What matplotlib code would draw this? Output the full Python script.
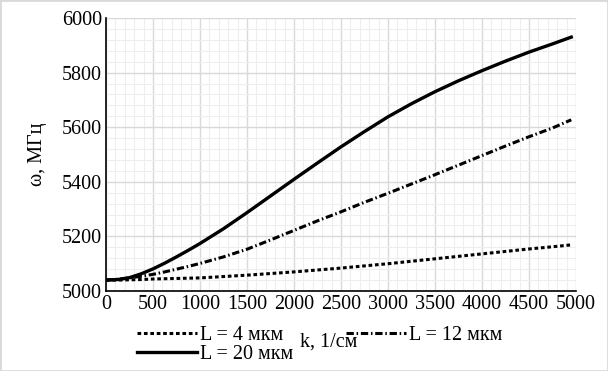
import matplotlib
matplotlib.use('Agg')
import matplotlib.pyplot as plt
from matplotlib.patches import Rectangle
from matplotlib.ticker import MultipleLocator

plt.rcParams['font.family'] = ['Liberation Serif', 'DejaVu Serif']
plt.rcParams['axes.unicode_minus'] = False

# Волновое число, 1/см
k = [0, 125, 250, 375, 500, 625, 750, 875, 1000, 1250, 1500, 1750, 2000, 2250, 2500,
     2750, 3000, 3250, 3500, 3750, 4000, 4250, 4500, 4750, 4950]
# Частота, МГц
w_L4 = [5040, 5040, 5041, 5042, 5044, 5045, 5046, 5047, 5048, 5053, 5058, 5064, 5070,
        5077, 5084, 5092, 5100, 5109, 5118, 5127, 5136, 5145, 5154, 5162, 5169]
w_L12 = [5040, 5043, 5048, 5054, 5061, 5070, 5080, 5090, 5101, 5125, 5153, 5187, 5222,
         5257, 5290, 5325, 5358, 5392, 5426, 5461, 5496, 5531, 5565, 5597, 5627]
w_L20 = [5040, 5042, 5049, 5063, 5081, 5102, 5125, 5149, 5174, 5228, 5287, 5348, 5409,
         5469, 5528, 5584, 5638, 5686, 5730, 5770, 5807, 5842, 5875, 5905, 5930]

fig = plt.figure(figsize=(6.08, 3.71), dpi=100)
ax = fig.add_axes([0.1743, 0.2156, 0.7730, 0.7359])

l4, = ax.plot(k, w_L4, color='black', linewidth=2.2, linestyle=(0, (1.2, 0.9)),
              label='L = 4 мкм')
l12, = ax.plot(k, w_L12, color='black', linewidth=2.2,
               linestyle=(0, (2.4, 0.9, 0.5, 0.9)), label='L = 12 мкм')
l20, = ax.plot(k, w_L20, color='black', linewidth=2.4, linestyle='-',
               label='L = 20 мкм')

ax.set_xlim(0, 5000)
ax.set_ylim(5000, 6000)
ax.xaxis.set_major_locator(MultipleLocator(500))
ax.xaxis.set_minor_locator(MultipleLocator(100))
ax.yaxis.set_major_locator(MultipleLocator(200))
ax.yaxis.set_minor_locator(MultipleLocator(40))

ax.grid(which='major', color='#d9d9d9', linewidth=1.0)
ax.grid(which='minor', color='#eeeeee', linewidth=0.8)
ax.set_axisbelow(True)

for s in ['top', 'right']:
    ax.spines[s].set_visible(False)
ax.spines['left'].set_linewidth(1.2)
ax.spines['bottom'].set_linewidth(1.2)
ax.tick_params(which='both', length=0, labelsize=14.5, pad=3)

ax.set_ylabel('ω, МГц', fontsize=14.5)
ax.yaxis.set_label_coords(-0.125, 0.5)
ax.set_xlabel('k, 1/см', fontsize=14.5)
ax.xaxis.set_label_coords(0.474, -0.152)

# порядок: первая колонка L=4 и L=20, вторая L=12
fig.legend([l4, l20, l12], ['L = 4 мкм', 'L = 20 мкм', 'L = 12 мкм'],
           loc='upper left', bbox_to_anchor=(0.2253, 0.121), ncol=2,
           frameon=False, fontsize=14.5, handlelength=3.0, handletextpad=0.15,
           columnspacing=2.6, labelspacing=0.0, borderpad=0, borderaxespad=0)

fig.patches.append(Rectangle((0, 0), 1, 1, transform=fig.transFigure,
                             fill=False, edgecolor='#d9d9d9', linewidth=2))

fig.savefig('out.png', dpi=100, facecolor='white')
plt.close(fig)
